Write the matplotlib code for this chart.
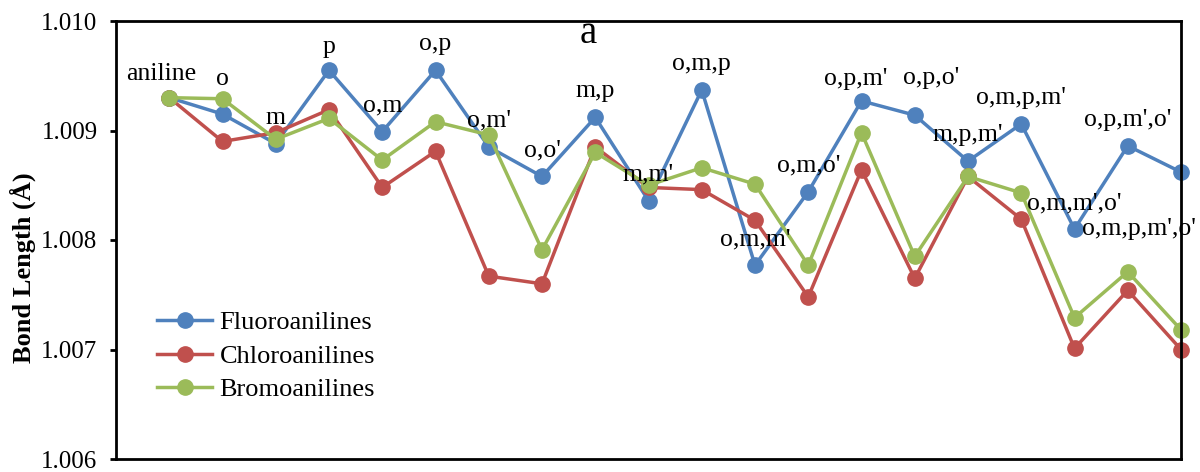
import matplotlib
matplotlib.use("Agg")
import matplotlib.pyplot as plt

plt.rcParams['font.family'] = ['Liberation Serif', 'DejaVu Serif']

categories = ["aniline", "o", "m", "p", "o,m", "o,p", "o,m'", "o,o'", "m,p", "m,m'",
              "o,m,p", "o,m,m'", "o,m,o'", "o,p,m'", "o,p,o'", "m,p,m'", "o,m,p,m'",
              "o,m,m',o'", "o,p,m',o'", "o,m,p,m',o'"]

fluoro = [1.00930, 1.00915, 1.00888, 1.00955, 1.00899, 1.00955, 1.00885, 1.00858,
          1.00912, 1.00836, 1.00937, 1.00777, 1.00844, 1.00927, 1.00914, 1.00872,
          1.00906, 1.00810, 1.00886, 1.00862]
chloro = [1.00930, 1.00890, 1.00898, 1.00919, 1.00848, 1.00881, 1.00767, 1.00760,
          1.00885, 1.00848, 1.00846, 1.00818, 1.00748, 1.00864, 1.00765, 1.00858,
          1.00819, 1.00701, 1.00754, 1.00700]
bromo = [1.00930, 1.00929, 1.00892, 1.00911, 1.00873, 1.00908, 1.00896, 1.00791,
         1.00880, 1.00850, 1.00866, 1.00851, 1.00777, 1.00898, 1.00785, 1.00858,
         1.00843, 1.00729, 1.00771, 1.00718]

# label offsets (pixels) from the fluoro point, baseline anchored
label_offsets = {"aniline": (-8, 18), "o": (0, 29), "p": (0, 17), "o,p,m'": (-6, 16),
                 "o,p,o'": (16, 31), "o,m,p,m',o'": (-42, -63)}

fig = plt.figure(figsize=(12, 4.72), dpi=100)
ax = fig.add_axes([116 / 1200, 1 - 459 / 472, 1065 / 1200, 438 / 472])

x = list(range(1, len(categories) + 1))
series = [("Fluoroanilines", fluoro, "#4F81BD"),
          ("Chloroanilines", chloro, "#C0504D"),
          ("Bromoanilines", bromo, "#9BBB59")]
for name, vals, col in series:
    ax.plot(x, vals, color=col, lw=2.5, marker="o", ms=11, label=name, clip_on=False)

for xi, cat, v in zip(x, categories, fluoro):
    dx, dy = label_offsets.get(cat, (0, 20))
    ax.annotate(cat, (xi, v), xytext=(dx, dy), textcoords="offset pixels",
                ha="center", va="baseline", fontsize=18.5)

ax.set_xlim(0, 20)
ax.set_ylim(1.006, 1.010)
ax.set_yticks([1.006, 1.007, 1.008, 1.009, 1.010])
ax.set_yticklabels(["1.006", "1.007", "1.008", "1.009", "1.010"], fontsize=18)
ax.set_xticks([])
ax.tick_params(axis="y", direction="out", length=4.3, width=2, pad=9)
for sp in ax.spines.values():
    sp.set_linewidth(2)

ax.set_ylabel("Bond Length (Å)", fontsize=19, fontweight="bold")
ax.yaxis.set_label_coords(-0.075, 0.436)

fig.text(588 / 1200, 1 - 43 / 472, "a", ha="center", va="baseline", fontsize=28)

ax.legend(loc="center left", bbox_to_anchor=(0.0385, 0.235), frameon=False,
          fontsize=19, handlelength=2.1, handletextpad=0.27, labelspacing=0.38,
          borderpad=0, borderaxespad=0)

fig.savefig("out.png", dpi=100)
